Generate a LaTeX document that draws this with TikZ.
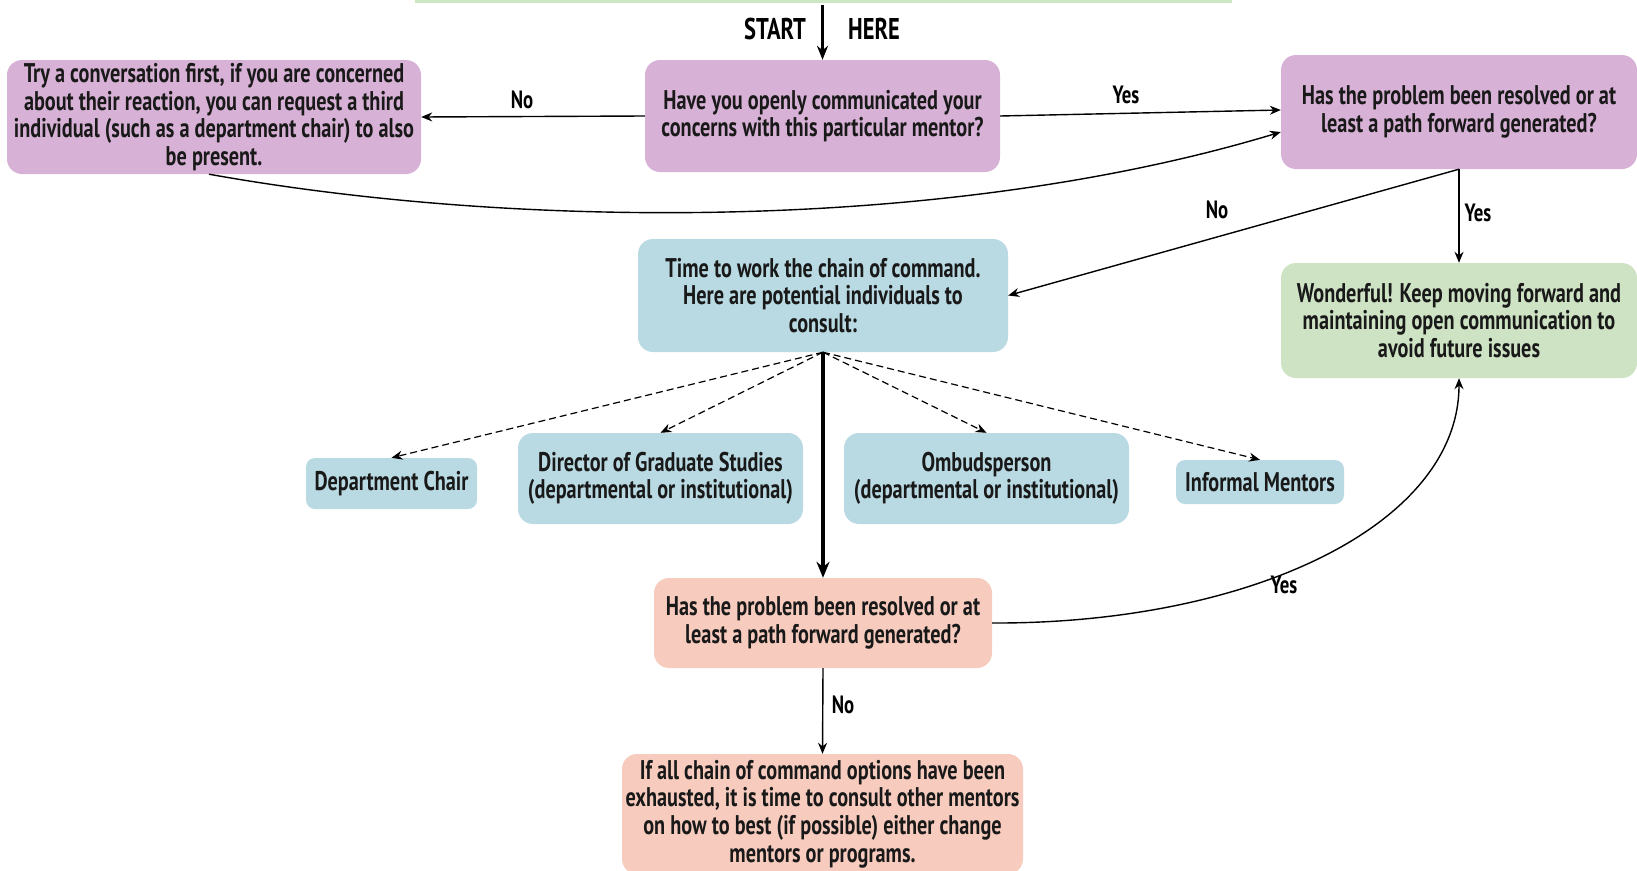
\documentclass[tikz,border=0pt]{standalone}
\usepackage{fontspec}
\setmainfont{PT Sans}[FakeStretch=0.75]
\usetikzlibrary{arrows.meta}
\definecolor{purp}{RGB}{216,178,214}
\definecolor{bluec}{RGB}{185,218,227}
\definecolor{greenc}{RGB}{206,227,196}
\definecolor{pinkc}{RGB}{247,204,190}
\definecolor{topgreen}{RGB}{205,230,195}
\tikzset{
  box/.style={rounded corners=15pt, align=center, inner sep=0pt, text=black!90,
    font=\bfseries\fontsize{27}{27.6}\selectfont},
  smallbox/.style={box, rounded corners=9pt},
  lbl/.style={font=\bfseries\fontsize{25}{27}\selectfont, inner sep=0pt},
  arr/.style={line width=1.4pt, -{Stealth[length=11pt,width=9pt]}},
  thickarr/.style={line width=4pt, -{Stealth[length=16pt,width=13pt]}},
  dasharr/.style={line width=1.2pt, dashed, dash pattern=on 7pt off 4pt, -{Stealth[length=11pt,width=9pt]}}
}
\begin{document}
\begin{tikzpicture}[x=1pt,y=-1pt]
\useasboundingbox (0,0) rectangle (1637,870);
\draw[topgreen, line width=3pt] (415,1) -- (1232,1);

\node[box, fill=purp, minimum width=414pt, minimum height=114pt] (A) at (214,117)
 {Try a conversation first, if you are concerned\\about their reaction, you can request a third\\individual (such as a department chair) to also\\be present.};
\node[box, fill=purp, minimum width=355pt, minimum height=112pt] (B) at (822.5,116)
 {Have you openly communicated your\\concerns with this particular mentor?};
\node[box, fill=purp, minimum width=356pt, minimum height=114pt] (C) at (1459,112)
 {Has the problem been resolved or at\\least a path forward generated?};
\node[box, fill=bluec, minimum width=370pt, minimum height=113pt] (D) at (823,295.5)
 {Time to work the chain of command.\\Here are potential individuals to\\consult:};
\node[box, fill=greenc, minimum width=356pt, minimum height=115pt] (E) at (1459,320.5)
 {Wonderful! Keep moving forward and\\maintaining open communication to\\avoid future issues};
\node[smallbox, fill=bluec, minimum width=171pt, minimum height=51pt] (DC) at (391.5,483.5)
 {Department Chair};
\node[box, fill=bluec, minimum width=285pt, minimum height=91pt] (Dir) at (660.5,478.5)
 {Director of Graduate Studies\\(departmental or institutional)};
\node[box, fill=bluec, minimum width=285pt, minimum height=91pt] (Omb) at (986.5,478.5)
 {Ombudsperson\\(departmental or institutional)};
\node[smallbox, fill=bluec, minimum width=168pt, minimum height=44pt] (Inf) at (1260,482)
 {Informal Mentors};
\node[box, fill=pinkc, minimum width=338pt, minimum height=90pt] (Q) at (823,623)
 {Has the problem been resolved or at\\least a path forward generated?};
\node[box, fill=pinkc, minimum width=401pt, minimum height=120pt] (F) at (822.5,814)
 {If all chain of command options have been\\exhausted, it is time to consult other mentors\\on how to best (if possible) either change\\mentors or programs.};

% start
\coordinate (s0) at (822.5,5);
\draw[line width=3pt, -{Stealth[length=14pt,width=11pt]}] (s0) -- (B.north);
\node[lbl, font=\bfseries\fontsize{30}{32}\selectfont] (start) at (775,29) {START};
\node[lbl, font=\bfseries\fontsize{30}{32}\selectfont] (here) at (874,29) {HERE};

% connectors
\draw[arr] (B.west) -- (A.east);
\node[lbl] (noAB) at (522,100) {No};
\draw[arr] (B.east) -- ([yshift=2pt]C.west);
\node[lbl] (yesBC) at (1126,95) {Yes};
\draw[arr] ([xshift=-5pt]A.south) .. controls (520,230) and (950,232) .. ([yshift=-20pt]C.west);
\draw[arr] (C.south) -- (D.east);
\node[lbl] (noCD) at (1217,210) {No};
\draw[arr] (C.south) -- (E.north);
\node[lbl] (yesCE) at (1478,213) {Yes};
\draw[thickarr] (D.south) -- (Q.north);
\draw[dasharr] (D.south) -- (DC.north);
\draw[dasharr] (D.south) -- (Dir.north);
\draw[dasharr] (D.south) -- (Omb.north);
\draw[dasharr] (D.south) -- (Inf.north);
\draw[arr] (Q.east) .. controls (1250,624) and (1459,525) .. (E.south);
\node[lbl] (yesQE) at (1284,585) {Yes};
\draw[arr] (Q.south) -- (F.north);
\node[lbl] (noQF) at (843,705) {No};
\end{tikzpicture}
\end{document}
